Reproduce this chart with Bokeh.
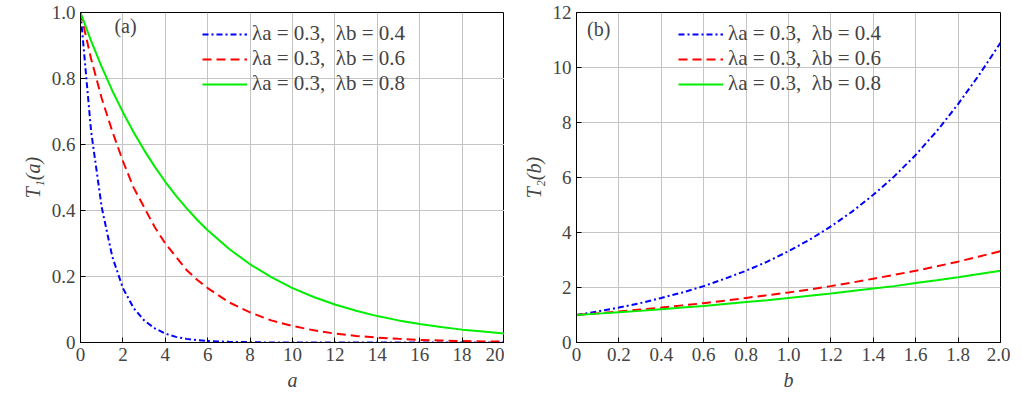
from bokeh.plotting import figure
from bokeh.layouts import row
from bokeh.models import FixedTicker, Label, Legend
from bokeh.embed import file_html
from bokeh.resources import INLINE

a_vals = [0, 0.5, 1, 1.5, 2, 2.5, 3, 3.5, 4, 4.5, 5, 5.5, 6, 7, 8, 9, 10, 11, 12, 13, 14, 15, 16, 17, 18, 19, 20]
t1_b04 = [1, 0.64, 0.41, 0.26, 0.165, 0.105, 0.067, 0.043, 0.027, 0.017, 0.011, 0.007, 0.0045, 0.002, 0.001,
          0, 0, 0, 0, 0, 0, 0, 0, 0, 0, 0, 0]
t1_b06 = [1, 0.86, 0.74, 0.64, 0.55, 0.47, 0.41, 0.35, 0.30, 0.26, 0.22, 0.19, 0.165, 0.122, 0.091, 0.067,
          0.050, 0.037, 0.027, 0.020, 0.015, 0.011, 0.008, 0.006, 0.0045, 0.0033, 0.0025]
t1_b08 = [1, 0.914, 0.835, 0.763, 0.698, 0.638, 0.583, 0.533, 0.487, 0.445, 0.407, 0.372, 0.340, 0.284, 0.237,
          0.198, 0.165, 0.138, 0.115, 0.096, 0.080, 0.067, 0.056, 0.047, 0.039, 0.033, 0.027]

b_vals = [0, 0.1, 0.2, 0.3, 0.4, 0.5, 0.6, 0.7, 0.8, 0.9, 1.0, 1.1, 1.2, 1.3, 1.4, 1.5, 1.6, 1.7, 1.8, 1.9, 2.0]
t2_b04 = [1, 1.13, 1.27, 1.43, 1.62, 1.82, 2.05, 2.32, 2.61, 2.94, 3.32, 3.74, 4.22, 4.76, 5.37, 6.05, 6.82, 7.69, 8.67, 9.74, 10.9]
t2_b06 = [1, 1.06, 1.13, 1.20, 1.27, 1.35, 1.43, 1.52, 1.62, 1.72, 1.82, 1.93, 2.05, 2.18, 2.32, 2.46, 2.61, 2.77, 2.94, 3.13, 3.32]
t2_b08 = [1, 1.05, 1.10, 1.15, 1.21, 1.27, 1.33, 1.40, 1.47, 1.54, 1.62, 1.70, 1.78, 1.87, 1.96, 2.05, 2.16, 2.26, 2.37, 2.49, 2.61]

labels = ["λa = 0.3,  λb = 0.4", "λa = 0.3,  λb = 0.6", "λa = 0.3,  λb = 0.8"]
a_ticks = list(range(0, 21, 2))
t1_ticks = [0, 0.2, 0.4, 0.6, 0.8, 1.0]
t1_tick_labels = {0: "0", 0.2: "0.2", 0.4: "0.4", 0.6: "0.6", 0.8: "0.8", 1.0: "1.0"}
b_ticks = [0, 0.2, 0.4, 0.6, 0.8, 1.0, 1.2, 1.4, 1.6, 1.8, 2.0]
b_tick_labels = {t: ("0" if t == 0 else f"{t:.1f}") for t in b_ticks}
t2_ticks = list(range(0, 13, 2))

FONT = "Liberation Serif"


def make(xr, yr, xt, yt, xlab, ylab, xover, yover, ml, mr):
    p = figure(frame_width=424, frame_height=330, x_range=xr, y_range=yr,
               output_backend="svg", toolbar_location=None,
               min_border_left=ml, min_border_right=mr, min_border_top=12, min_border_bottom=10)
    p.outline_line_color = "black"
    p.outline_line_width = 1
    for ax, ticks, over in ((p.xaxis[0], xt, xover), (p.yaxis[0], yt, yover)):
        ax.ticker = FixedTicker(ticks=ticks)
        if over:
            ax.major_label_overrides = over
        ax.major_tick_in = 5
        ax.major_tick_out = 0
        ax.minor_tick_line_color = None
        ax.major_label_text_font = FONT
        ax.major_label_text_font_size = "19px"
        ax.axis_label_text_font = FONT
        ax.axis_label_text_font_size = "20px"
        ax.axis_label_text_font_style = "italic"
        ax.axis_line_color = "black"
    p.xaxis.axis_label = xlab
    p.yaxis.axis_label = ylab
    p.grid.grid_line_color = "#c4c4c4"
    p.grid.grid_line_alpha = 1
    p.xgrid.ticker = FixedTicker(ticks=xt)
    p.ygrid.ticker = FixedTicker(ticks=yt)
    return p


p1 = make((0, 20), (0, 1), a_ticks, t1_ticks, "a", "T₁(a)", {0: "0"}, t1_tick_labels, 80, 0)
r1 = p1.line(a_vals, t1_b04, color="blue", line_width=2, line_dash="6 3 2 3")
r2 = p1.line(a_vals, t1_b06, color="red", line_width=2, line_dash="9 5")
r3 = p1.line(a_vals, t1_b08, color="#00ee00", line_width=2)
p1.add_layout(Label(x=1.6, y=0.925, text="(a)", text_font=FONT, text_font_size="20px"))

p2 = make((0, 2), (0, 12), b_ticks, t2_ticks, "b", "T₂(b)", b_tick_labels, {0: "0"}, 72, 10)
s1 = p2.line(b_vals, t2_b04, color="blue", line_width=2, line_dash="6 3 2 3")
s2 = p2.line(b_vals, t2_b06, color="red", line_width=2, line_dash="9 5")
s3 = p2.line(b_vals, t2_b08, color="#00ee00", line_width=2)
p2.add_layout(Label(x=0.05, y=11.0, text="(b)", text_font=FONT, text_font_size="20px"))

for p, rs, x0 in ((p1, (r1, r2, r3), 122), (p2, (s1, s2, s3), 102)):
    lg = Legend(items=[(labels[i], [rs[i]]) for i in range(3)])
    lg.border_line_color = None
    lg.background_fill_alpha = 0
    lg.label_text_font = FONT
    lg.label_text_font_size = "21px"
    lg.glyph_width = 45
    lg.spacing = -4
    lg.padding = 2
    lg.margin = 0
    lg.location = (x0, p.frame_height - 84)
    p.add_layout(lg)

layout = row(p1, p2)
open("out.html", "w").write(file_html(layout, INLINE))
